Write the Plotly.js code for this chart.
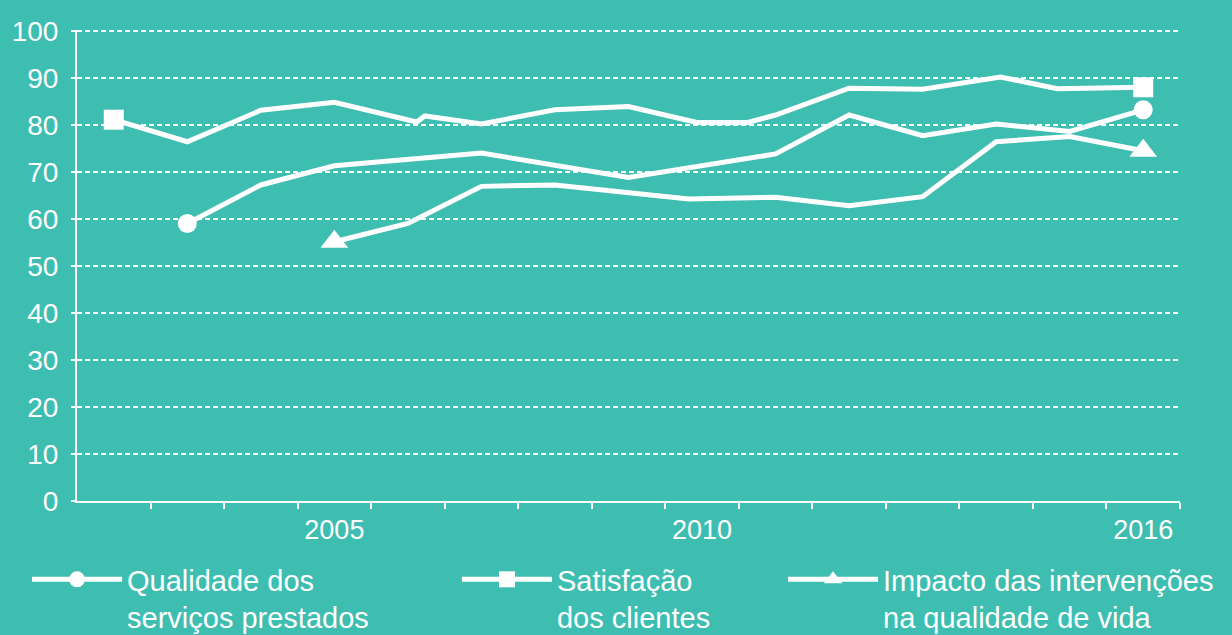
<!DOCTYPE html>
<html>
<head>
<meta charset="utf-8">
<script src="https://cdn.plot.ly/plotly-3.0.1.min.js"></script>
<style>
  html, body { margin: 0; padding: 0; background: #3ebdb1; }
  #chart { width: 1232px; height: 635px; }
</style>
</head>
<body>
<div id="chart"></div>
<script>
// ---- Data ----
const seriesNames = [
  "Qualidade dos<br>serviços prestados",
  "Satisfação<br>dos clientes",
  "Impacto das intervenções<br>na qualidade de vida"
];

const qualidadeYears  = [2003, 2004, 2005, 2007, 2009, 2011, 2012, 2013, 2014, 2015, 2016];
const qualidadeValues = [59.1, 67.3, 71.4, 74.1, 68.9, 73.9, 82.2, 77.8, 80.3, 78.7, 83.3];

const satisfacaoYears  = [2002, 2003, 2004, 2005, 2006.12, 2006.23, 2007, 2008, 2009, 2009.93, 2010.62, 2011, 2012, 2013, 2014.06, 2014.83, 2016];
const satisfacaoValues = [81.2, 76.5, 83.2, 84.9, 80.7, 82.0, 80.3, 83.3, 84.0, 80.6, 80.6, 82.2, 87.9, 87.7, 90.3, 87.8, 88.1];

const impactoYears  = [2005, 2006, 2007, 2008, 2009.82, 2011, 2012, 2013, 2014, 2015, 2016];
const impactoValues = [55.2, 59.1, 67.0, 67.3, 64.3, 64.7, 62.9, 64.8, 76.5, 77.6, 74.6];

const labelYears = [2005, 2010, 2016];
const labelText  = ["2005", "2010", "2016"];
const boundaryTicks = [2002.5, 2003.5, 2004.5, 2005.5, 2006.5, 2007.5, 2008.5, 2009.5, 2010.5, 2011.5, 2012.5, 2013.5, 2014.5, 2015.5, 2016.5];
const yTicks = [0, 10, 20, 30, 40, 50, 60, 70, 80, 90, 100];

// ---- Styling ----
const BG = "#3ebdb1";
const W = "#ffffff";
const CLEAR = "rgba(255,255,255,0)";
const FONT = "Liberation Sans, Arial, Helvetica, sans-serif";

function endMarkers(n, sym, size) {
  // visible marker only at the first and last point of each series
  const colors = new Array(n).fill(CLEAR);
  colors[0] = W; colors[n - 1] = W;
  return { symbol: sym, size: size, color: colors, opacity: 1, line: { width: 0 } };
}

const traces = [
  {
    x: qualidadeYears, y: qualidadeValues, name: seriesNames[0],
    type: "scatter", mode: "lines+markers",
    line: { color: W, width: 5 },
    marker: endMarkers(qualidadeYears.length, "circle", 19),
    legend: "legend"
  },
  {
    x: satisfacaoYears, y: satisfacaoValues, name: seriesNames[1],
    type: "scatter", mode: "lines+markers",
    line: { color: W, width: 5 },
    marker: endMarkers(satisfacaoYears.length, "square", 20),
    legend: "legend2"
  },
  {
    x: impactoYears, y: impactoValues, name: seriesNames[2],
    type: "scatter", mode: "lines+markers",
    line: { color: W, width: 5 },
    marker: endMarkers(impactoYears.length, "triangle-up", 24),
    legend: "legend3"
  }
];

const legendBase = {
  orientation: "v", xref: "paper", yref: "container",
  yanchor: "top", xanchor: "left", y: 0.1276,
  bgcolor: "rgba(0,0,0,0)", borderwidth: 0,
  font: { family: FONT, size: 29, color: W },
  itemwidth: 90, valign: "top", tracegroupgap: 0
};

const layout = {
  width: 1232, height: 635,
  paper_bgcolor: BG, plot_bgcolor: BG,
  margin: { l: 77, r: 52, t: 30, b: 134 },
  font: { family: FONT, color: W },
  showlegend: true,
  legend:  Object.assign({}, legendBase, { x: -0.0453 }),
  legend2: Object.assign({}, legendBase, { x: 0.3445 }),
  legend3: Object.assign({}, legendBase, { x: 0.6401 }),
  xaxis: {
    range: [2001.5, 2016.5],
    showgrid: false, zeroline: false,
    showline: true, linecolor: W, linewidth: 2,
    tickmode: "array", tickvals: labelYears, ticktext: labelText,
    ticks: "",
    tickfont: { family: FONT, size: 27, color: W },
    ticklabelstandoff: 4,
    minor: {
      tickmode: "array", tickvals: boundaryTicks,
      ticks: "outside", ticklen: 6, tickwidth: 2, tickcolor: W, showgrid: false
    }
  },
  yaxis: {
    range: [0, 100.3],
    tickmode: "array", tickvals: yTicks,
    showgrid: true, gridcolor: W, gridwidth: 2, griddash: "5px,3px",
    zeroline: false,
    showline: true, linecolor: W, linewidth: 2,
    ticks: "outside", ticklen: 4, tickwidth: 2, tickcolor: W,
    tickfont: { family: FONT, size: 28, color: W },
    ticklabelstandoff: 7
  }
};

Plotly.newPlot("chart", traces, layout, { displayModeBar: false, staticPlot: true });
</script>
</body>
</html>
